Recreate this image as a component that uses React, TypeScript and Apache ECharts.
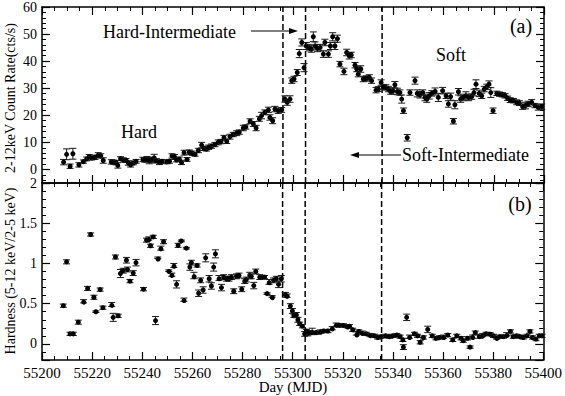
import React, { useEffect, useRef } from "react";
import * as echarts from "echarts";

// ---- Panel (a): 2-12 keV count rate ----
const rateDays = [
  55208.6, 55209.8, 55211.2, 55212.3, 55214.7, 55216.5, 55217.8, 55218.8, 55219.8, 55221.1,
  55222.4, 55223.4, 55224.4, 55227.6, 55228.6, 55229.5, 55230.2, 55231.3, 55232.4, 55233.5,
  55234.4, 55235.3, 55236.4, 55237.5, 55240.2, 55241.0, 55241.8, 55242.7, 55243.7, 55244.7,
  55245.6, 55246.8, 55247.8, 55249.7, 55250.8, 55251.8, 55252.8, 55253.6, 55254.7, 55255.6,
  55256.6, 55257.8, 55258.7, 55259.8, 55261.0, 55262.3, 55263.6, 55264.5, 55265.5, 55266.4,
  55267.5, 55268.9, 55270.2, 55271.3, 55272.5, 55273.6, 55274.9, 55276.2, 55277.6, 55278.6,
  55280.2, 55281.2, 55282.9, 55284.2, 55285.3, 55286.6, 55287.5, 55288.8, 55290.2, 55290.8,
  55291.9, 55292.8, 55294.1, 55295.5, 55296.8, 55297.7, 55298.8, 55299.5, 55300.4, 55301.7,
  55302.5, 55303.5, 55304.4, 55305.3, 55306.5, 55307.3, 55308.1, 55308.8, 55309.8, 55310.8,
  55312.1, 55312.7, 55314.1, 55314.9, 55315.8, 55316.7, 55317.7, 55318.7, 55320.3, 55321.4,
  55322.4, 55323.2, 55324.7, 55325.4, 55326.0, 55327.0, 55328.0, 55329.2, 55330.4, 55331.3,
  55333.1, 55334.0, 55335.1, 55336.0, 55337.0, 55338.0, 55338.9, 55339.8, 55340.6, 55341.6,
  55342.6, 55343.3, 55344.0, 55345.5, 55346.6, 55348.6, 55349.5, 55350.6, 55351.7, 55352.6,
  55353.3, 55354.3, 55355.3, 55356.6, 55357.9, 55359.6, 55361.0, 55361.9, 55362.8, 55363.9,
  55364.5, 55365.9, 55366.8, 55367.8, 55368.9, 55370.0, 55371.2, 55372.1, 55372.9, 55374.2,
  55375.2, 55376.2, 55377.2, 55378.1, 55378.8, 55379.7, 55381.2, 55382.3, 55383.4, 55384.5,
  55385.5, 55386.5, 55387.8, 55389.1, 55390.2, 55391.5, 55392.6, 55393.7, 55395.1, 55396.4,
  55397.7, 55399.1,
];
const rateValues = [
  2.7, 5.6, 1.2, 5.8, 1.7, 2.9, 3.9, 4.7, 4.2, 4.5,
  5.3, 5.0, 3.3, 2.8, 2.7, 2.5, 1.5, 4.0, 3.5, 3.3,
  2.4, 1.7, 2.4, 3.0, 3.7, 3.5, 3.8, 3.3, 3.5, 4.3,
  3.2, 2.6, 3.0, 2.8, 3.0, 5.0, 4.6, 3.5, 3.8, 2.6,
  6.2, 3.7, 6.4, 6.0, 5.6, 7.0, 9.0, 7.8, 7.5, 8.2,
  8.6, 9.2, 10.0, 10.3, 11.7, 10.4, 12.1, 12.9, 13.4, 13.8,
  15.3, 15.7, 17.8, 16.8, 15.3, 18.7, 19.9, 21.1, 22.0, 19.2,
  18.0, 22.3, 21.7, 22.0, 26.0, 24.8, 26.0, 32.8, 33.4, 35.8,
  42.8, 46.9, 37.6, 45.6, 45.0, 44.5, 49.0, 45.6, 44.8, 45.0,
  42.6, 46.9, 42.6, 45.6, 49.0, 45.6, 48.3, 38.9, 36.2, 43.2,
  42.0, 42.3, 38.5, 37.1, 35.2, 37.1, 33.4, 33.6, 34.0, 32.8,
  29.3, 29.7, 32.1, 30.5, 30.3, 29.7, 28.8, 29.0, 31.3, 28.8,
  28.4, 26.0, 21.7, 11.7, 28.4, 32.8, 28.1, 27.6, 28.4, 26.6,
  26.0, 27.2, 28.1, 28.8, 26.6, 29.1, 27.2, 24.2, 26.9, 17.8,
  23.9, 28.7, 26.0, 26.6, 27.2, 26.6, 26.9, 28.4, 31.5, 28.1,
  27.2, 29.7, 30.5, 31.5, 28.4, 21.7, 28.1, 27.8, 27.6, 27.2,
  26.3, 25.6, 25.4, 24.8, 24.5, 23.2, 23.6, 24.2, 24.8, 23.6,
  22.9, 23.2,
];
const rateErrors = [
  1.0, 2.0, 0.8, 2.0, 0.8, 0.6, 0.7, 0.8, 0.7, 0.8,
  0.9, 0.8, 1.0, 0.8, 0.8, 0.8, 1.0, 0.7, 0.8, 0.7,
  0.8, 0.8, 0.7, 0.7, 0.8, 0.8, 1.0, 1.2, 1.0, 1.3,
  0.8, 0.8, 0.7, 0.7, 0.7, 0.8, 0.9, 0.7, 0.8, 0.8,
  0.9, 0.7, 0.8, 0.8, 0.7, 0.8, 1.0, 0.8, 0.7, 0.8,
  0.8, 0.8, 0.9, 0.8, 0.9, 0.8, 0.9, 0.8, 0.9, 0.8,
  1.0, 0.8, 0.9, 0.9, 1.0, 0.9, 1.2, 0.9, 1.0, 1.0,
  1.1, 1.0, 1.0, 0.9, 1.2, 1.1, 1.2, 1.0, 1.0, 1.1,
  1.5, 1.3, 1.5, 1.3, 1.2, 1.2, 1.8, 1.5, 1.3, 1.2,
  1.2, 1.2, 1.2, 1.3, 1.5, 1.3, 1.3, 1.0, 1.2, 1.2,
  1.2, 1.0, 1.0, 1.0, 1.0, 1.2, 1.0, 1.0, 1.0, 1.0,
  1.0, 0.9, 1.0, 0.9, 1.0, 1.0, 1.0, 1.2, 1.2, 1.2,
  1.0, 1.5, 1.0, 1.2, 1.0, 1.3, 1.3, 1.2, 1.0, 1.2,
  1.2, 1.2, 1.0, 1.3, 1.5, 1.2, 1.0, 1.2, 1.3, 1.0,
  1.5, 1.2, 1.2, 1.2, 1.5, 1.2, 1.0, 1.2, 1.6, 1.2,
  1.0, 1.0, 1.0, 1.2, 1.8, 1.0, 0.8, 0.8, 0.8, 0.8,
  0.8, 0.9, 0.8, 0.9, 0.9, 1.0, 1.2, 1.0, 1.0, 0.8,
  1.0, 1.0,
];

// ---- Panel (b): hardness ratio ----
const hrDays = [
  55208.5, 55209.8, 55211.2, 55212.5, 55214.5, 55216.6, 55218.2, 55219.4, 55220.7, 55221.5,
  55223.2, 55224.3, 55227.8, 55228.4, 55229.3, 55230.4, 55231.3, 55232.4, 55233.7, 55234.1,
  55235.1, 55236.4, 55237.5, 55240.5, 55241.7, 55242.6, 55243.3, 55244.4, 55245.3, 55246.2,
  55247.4, 55248.5, 55250.6, 55251.8, 55252.6, 55253.7, 55254.3, 55255.6, 55256.6, 55257.6,
  55259.0, 55259.6, 55260.6, 55261.9, 55262.5, 55263.3, 55264.3, 55265.3, 55266.7, 55267.6,
  55268.5, 55269.2, 55270.6, 55271.6, 55272.5, 55273.6, 55274.6, 55275.6, 55276.5, 55277.6,
  55278.6, 55279.7, 55280.9, 55281.5, 55282.9, 55283.5, 55284.5, 55285.3, 55286.9, 55287.9,
  55288.8, 55289.8, 55290.6, 55291.8, 55292.4, 55293.5, 55294.4, 55295.5, 55297.1, 55297.8,
  55299.1, 55299.9, 55300.5, 55301.5, 55302.1, 55302.8, 55303.9, 55304.8, 55305.5, 55306.1,
  55306.8, 55307.8, 55309.4, 55311.0, 55312.4, 55314.1, 55315.8, 55317.4, 55318.7, 55320.3,
  55321.8, 55322.7, 55324.0, 55325.4, 55326.4, 55327.8, 55329.4, 55331.0, 55332.7, 55334.0,
  55335.3, 55337.1, 55338.6, 55340.0, 55341.6, 55342.9, 55344.0, 55344.2, 55345.5, 55346.6,
  55348.6, 55349.9, 55350.9, 55352.2, 55353.9, 55355.7, 55357.2, 55358.6, 55360.2, 55361.9,
  55363.9, 55365.5, 55367.2, 55368.1, 55369.8, 55370.8, 55371.8, 55372.9, 55374.5, 55375.8,
  55377.2, 55378.8, 55380.1, 55381.4, 55382.7, 55384.1, 55385.4, 55386.9, 55388.0, 55389.4,
  55390.7, 55392.0, 55393.5, 55394.7, 55395.7, 55397.1, 55398.4, 55399.5,
];
const hrValues = [
  0.475, 1.02, 0.125, 0.125, 0.27, 0.53, 0.69, 1.36, 0.58, 0.4,
  0.675, 0.45, 0.49, 0.33, 1.08, 0.35, 0.875, 0.91, 1.04, 0.925,
  0.78, 0.88, 1.01, 0.68, 1.29, 1.31, 1.22, 1.33, 0.29, 1.07,
  1.19, 1.27, 0.91, 0.86, 0.975, 0.74, 1.225, 1.28, 0.55, 1.19,
  0.955, 1.01, 0.85, 0.975, 0.63, 0.79, 0.67, 1.07, 0.81, 0.72,
  0.955, 1.12, 0.82, 0.7, 0.83, 0.81, 0.81, 0.83, 0.655, 0.84,
  0.85, 0.68, 0.78, 0.8, 0.85, 0.84, 0.725, 0.9, 0.83, 0.83,
  0.83, 0.625, 0.77, 0.59, 0.79, 0.81, 0.74, 0.81, 0.61, 0.6,
  0.47, 0.41, 0.35, 0.36, 0.3, 0.25, 0.22, 0.125, 0.16, 0.13,
  0.14, 0.155, 0.14, 0.155, 0.16, 0.16, 0.195, 0.24, 0.23, 0.23,
  0.22, 0.22, 0.175, 0.13, 0.155, 0.14, 0.125, 0.11, 0.1, 0.08,
  0.09, 0.1, 0.09, 0.1, 0.11, 0.09, 0.05, -0.04, 0.33, 0.09,
  0.125, 0.1, 0.02, 0.08, 0.18, 0.1, 0.07, 0.08, 0.09, 0.11,
  0.05, 0.1, 0.07, 0.04, 0.07, -0.04, 0.09, 0.14, 0.09, 0.11,
  0.125, 0.12, 0.1, 0.08, 0.09, 0.09, 0.12, 0.155, 0.09, 0.1,
  0.09, 0.08, 0.1, 0.155, 0.08, 0.06, 0.1, 0.1,
];
const hrErrors = [
  0.02, 0.025, 0.02, 0.02, 0.025, 0.02, 0.025, 0.02, 0.025, 0.01,
  0.02, 0.02, 0.025, 0.05, 0.025, 0.02, 0.05, 0.03, 0.035, 0.03,
  0.02, 0.03, 0.04, 0.02, 0.025, 0.02, 0.02, 0.02, 0.05, 0.01,
  0.025, 0.025, 0.01, 0.02, 0.025, 0.045, 0.025, 0.01, 0.02, 0.01,
  0.04, 0.03, 0.04, 0.02, 0.04, 0.03, 0.04, 0.05, 0.04, 0.04,
  0.05, 0.05, 0.03, 0.04, 0.03, 0.03, 0.03, 0.03, 0.03, 0.03,
  0.03, 0.03, 0.03, 0.03, 0.04, 0.03, 0.04, 0.03, 0.03, 0.02,
  0.02, 0.01, 0.03, 0.01, 0.03, 0.03, 0.04, 0.04, 0.03, 0.02,
  0.03, 0.03, 0.02, 0.03, 0.03, 0.02, 0.02, 0.03, 0.02, 0.03,
  0.02, 0.04, 0.02, 0.02, 0.02, 0.02, 0.02, 0.02, 0.02, 0.02,
  0.02, 0.02, 0.02, 0.02, 0.02, 0.02, 0.02, 0.02, 0.02, 0.02,
  0.02, 0.02, 0.02, 0.02, 0.02, 0.02, 0.02, 0.03, 0.04, 0.02,
  0.02, 0.02, 0.02, 0.02, 0.04, 0.02, 0.02, 0.02, 0.02, 0.02,
  0.02, 0.02, 0.02, 0.02, 0.02, 0.015, 0.02, 0.02, 0.02, 0.02,
  0.02, 0.02, 0.02, 0.02, 0.02, 0.02, 0.02, 0.02, 0.02, 0.02,
  0.02, 0.02, 0.02, 0.02, 0.02, 0.02, 0.02, 0.02,
];

// state transitions (dashed lines)
const transitionDays = [55296, 55305, 55335.5];

const SERIF_FAMILY = "Liberation Serif";
const SERIF = '"Liberation Serif", serif';

function errRender(_params: any, api: any) {
  const x = api.value(0);
  const y = api.value(1);
  const e = api.value(2);
  const p = api.coord([x, y]);
  const hi = api.coord([x, y + e]);
  const lo = api.coord([x, y - e]);
  const cap = 3.5;
  const st = { stroke: "#1a1a1a", lineWidth: 1 };
  return {
    type: "group",
    children: [
      { type: "line", shape: { x1: p[0], y1: hi[1], x2: p[0], y2: lo[1] }, style: st },
      { type: "line", shape: { x1: p[0] - cap, y1: hi[1], x2: p[0] + cap, y2: hi[1] }, style: st },
      { type: "line", shape: { x1: p[0] - cap, y1: lo[1], x2: p[0] + cap, y2: lo[1] }, style: st },
      { type: "circle", shape: { cx: p[0], cy: p[1], r: 2.5 }, style: { fill: "#000" } },
    ],
  };
}

export default function App() {
  const ref = useRef<HTMLDivElement>(null);
  useEffect(() => {
    if (!ref.current) return;
    const chart = echarts.init(ref.current, undefined, { renderer: "svg" });

    const axisLine = { show: true, onZero: false, lineStyle: { color: "#000", width: 1.5 } };
    const tick = { show: true, inside: true, length: 8, lineStyle: { color: "#000", width: 1.2 } };
    const minor = (n: number) => ({ show: true, splitNumber: n, length: 4, lineStyle: { color: "#000", width: 1 } });
    const xBase = (grid: number, position: string, labels: boolean) => ({
      type: "value",
      gridIndex: grid,
      position,
      min: 55200,
      max: 55400,
      interval: 20,
      axisLine,
      axisTick: tick,
      minorTick: minor(4),
      splitLine: { show: false },
      axisLabel: labels
        ? {
            show: true, color: "#000", fontFamily: SERIF_FAMILY, fontSize: 15, margin: 5,
            showMinLabel: true, showMaxLabel: true, formatter: (v: number) => String(v),
          }
        : { show: false },
    });
    const yAxisDef = (grid: number, position: string, labels: boolean, min: number, max: number, step: number) => ({
      type: "value",
      gridIndex: grid,
      position,
      min,
      max,
      minInterval: step,
      maxInterval: step,
      axisLine,
      axisTick: tick,
      minorTick: minor(5),
      splitLine: { show: false },
      axisLabel: labels
        ? {
            show: true, color: "#000", fontFamily: SERIF_FAMILY, fontSize: 14, lineHeight: 13, margin: 5,
            formatter: (v: number) => (v < 0 ? "" : String(v)),
          }
        : { show: false },
    });

    const rateData = rateDays.map((d, i) => [d, rateValues[i], rateErrors[i]]);
    const hrData = hrDays.map((d, i) => [d, hrValues[i], hrErrors[i]]);

    const dashStyle = { type: [6, 3], color: "#000", width: 1.5 };
    const dashSeries: any[] = [];
    transitionDays.forEach((d) => {
      dashSeries.push({
        type: "line", xAxisIndex: 0, yAxisIndex: 0, data: [[d, -5], [d, 60]],
        symbol: "none", silent: true, lineStyle: dashStyle, z: 1,
      });
      dashSeries.push({
        type: "line", xAxisIndex: 2, yAxisIndex: 2, data: [[d, -0.2], [d, 2]],
        symbol: "none", silent: true, lineStyle: dashStyle, z: 1,
      });
    });

    const txt = (text: string, x: number, y: number, size: number, align = "left", rotation = 0) => ({
      type: "text",
      x,
      y,
      rotation,
      style: { text, font: `${size}px ${SERIF}`, fill: "#000", align, verticalAlign: "middle" },
    });

    chart.setOption({
      animation: false,
      backgroundColor: "#fff",
      textStyle: { fontFamily: SERIF_FAMILY },
      grid: [
        { left: 42, right: 21, top: 5, height: 178 },
        { left: 42, right: 21, top: 183, height: 177 },
      ],
      xAxis: [xBase(0, "bottom", false), xBase(0, "top", false), xBase(1, "bottom", true), xBase(1, "top", false)],
      yAxis: [
        yAxisDef(0, "left", true, -5, 60, 10),
        yAxisDef(0, "right", false, -5, 60, 10),
        yAxisDef(1, "left", true, -0.2, 2, 0.5),
        yAxisDef(1, "right", false, -0.2, 2, 0.5),
      ],
      series: [
        ...dashSeries,
        {
          type: "custom", xAxisIndex: 0, yAxisIndex: 0, data: rateData,
          encode: { x: 0, y: 1 }, renderItem: errRender, z: 3,
        },
        {
          type: "custom", xAxisIndex: 2, yAxisIndex: 2, data: hrData,
          encode: { x: 0, y: 1 }, renderItem: errRender, z: 3,
        },
      ],
      graphic: [
        txt("Hard-Intermediate", 103, 32, 18),
        { type: "line", shape: { x1: 251, y1: 31, x2: 291, y2: 31 }, style: { stroke: "#000", lineWidth: 1.2 } },
        { type: "polygon", shape: { points: [[298, 31], [289, 28], [289, 34]] }, style: { fill: "#000" } },
        txt("(a)", 521, 26, 20, "center"),
        txt("Soft", 436, 55, 18),
        txt("Hard", 121, 132, 18),
        txt("Soft-Intermediate", 402, 155, 18),
        { type: "line", shape: { x1: 358, y1: 155, x2: 401, y2: 155 }, style: { stroke: "#000", lineWidth: 1.2 } },
        { type: "polygon", shape: { points: [[350, 155], [359, 152], [359, 158]] }, style: { fill: "#000" } },
        txt("(b)", 520, 204, 20, "center"),
        txt("2-12keV Count Rate(cts/s)", 10, 98, 14, "center", Math.PI / 2),
        txt("Hardness (5-12 keV/2-5 keV)", 10, 271, 14, "center", Math.PI / 2),
        txt("Day (MJD)", 293, 387, 15, "center"),
      ],
    });
    return () => chart.dispose();
  }, []);
  return (
    <div
      ref={ref}
      style={{ position: "fixed", left: 0, top: 0, width: 565, height: 396, background: "#fff" }}
    />
  );
}
